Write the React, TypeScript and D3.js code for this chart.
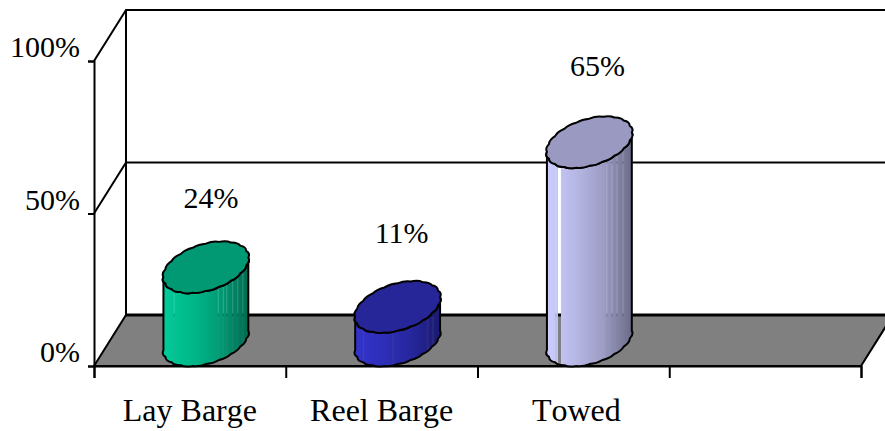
import * as d3 from 'd3';
import React, { useEffect, useRef } from 'react';

const categories = ['Lay Barge', 'Reel Barge', 'Towed', ''];
const shares = [24, 11, 65];
const yTicks = [0, 50, 100];

// body colours, left to right, and the colour of the cap
const bodyColors = [
    ['#00cc99', '#00b88a', '#009c75', '#006b50'],
    ['#3333cc', '#2e2eb8', '#26269c', '#1a1a70'],
    ['#ccccff', '#b8b8e6', '#9c9cc4', '#6b6b88'],
];
const capColors = ['#009973', '#262699', '#9999c2'];

// thin slits where the backdrop shows through the cylinder: [x fraction, width px, opacity]
const slits: [number, number, number][][] = [
    [[0.12, 1, 0.2], [0.64, 1, 0.2], [0.7, 1, 0.2], [0.74, 1, 0.2], [0.81, 1, 0.2], [0.87, 1, 0.2], [0.93, 1, 0.2]],
    [[0.09, 1, 0.2], [0.44, 1, 0.15], [0.85, 1, 0.2], [0.91, 1, 0.2]],
    [[0.1, 1, 0.2], [0.13, 3, 1], [0.7, 1, 0.2], [0.76, 1, 0.2], [0.82, 1, 0.2], [0.89, 1, 0.2]],
];

const App: React.FC = () => {
    const svgRef = useRef<SVGSVGElement>(null);

    useEffect(() => {
        if (!svgRef.current) return;
        d3.select(svgRef.current).selectAll('*').remove();

        const width = 885;
        const height = 431;
        const left = 94;
        const right = 861;
        const bottom = 366;
        const top = 61;
        const depthX = 32;
        const depthY = 51;
        const fontFamily = '"Liberation Serif", serif';
        const fontSize = 30;
        const categoryFontSize = 32;

        const svg = d3.select(svgRef.current)
            .attr('width', width)
            .attr('height', height)
            .style('position', 'absolute')
            .style('top', 0)
            .style('left', 0)
            .style('background', '#fff');

        const x = d3.scaleBand<string>().domain(categories).range([left, right]);
        const xEdges = d3.scaleLinear().domain([0, categories.length]).range([left, right]);
        const y = d3.scaleLinear().domain([0, 100]).range([bottom, top]);

        // Back wall gridlines and side wall
        yTicks.forEach((t) => {
            if (t === 0) return;
            svg.append('path')
                .attr('d', `M${left},${y(t)}L${left + depthX},${y(t) - depthY}H${right + depthX}`)
                .attr('fill', 'none')
                .attr('stroke', '#000')
                .attr('stroke-width', 2);
        });
        svg.append('line')
            .attr('x1', left + depthX).attr('x2', left + depthX)
            .attr('y1', y(100) - depthY).attr('y2', y(0) - depthY)
            .attr('stroke', '#000').attr('stroke-width', 2);

        // Floor
        svg.append('path')
            .attr('d', `M${left},${bottom}L${left + depthX},${bottom - depthY}H${right + depthX}L${right},${bottom}Z`)
            .attr('fill', '#808080')
            .attr('stroke', '#000')
            .attr('stroke-width', 2);
        svg.append('line')
            .attr('x1', left + depthX).attr('x2', right + depthX)
            .attr('y1', bottom - depthY).attr('y2', bottom - depthY)
            .attr('stroke', '#000').attr('stroke-width', 3);

        // Axes
        const yAxis = svg.append('g')
            .attr('transform', `translate(${left},0)`)
            .call(d3.axisLeft(y).tickValues(yTicks).tickFormat((d) => `${d}%`).tickSize(6).tickPadding(8));
        const xTicks = svg.append('g')
            .attr('transform', `translate(0,${bottom})`)
            .call(d3.axisBottom(xEdges).ticks(categories.length).tickFormat(() => '').tickSize(12).tickSizeOuter(12));
        const xLabels = svg.append('g')
            .attr('transform', `translate(0,${bottom})`)
            .call(d3.axisBottom(x).tickSize(0).tickPadding(32));
        xLabels.select('.domain').remove();
        xLabels.selectAll('.tick text')
            .attr('dx', (d) => (d === 'Towed' ? 3 : 0))
            .attr('font-size', categoryFontSize)
            .style('font-kerning', 'none');

        [yAxis, xTicks].forEach((g) => {
            g.selectAll('.domain, .tick line').attr('stroke', '#000').attr('stroke-width', 2);
        });
        yAxis.selectAll('text')
            .attr('font-size', fontSize)
            .attr('dy', '-0.15em');
        [yAxis, xLabels].forEach((g) => {
            g.selectAll('text')
                .attr('font-family', fontFamily)
                .attr('fill', '#000');
        });

        // Cylinders: a sheared ellipse sitting in the floor's perspective
        const halfW = x.bandwidth() * 0.205;
        const halfDX = depthX / 2;
        const halfDY = depthY / 2;
        const turn = Math.atan2(halfDX, halfW);
        const reach = Math.hypot(halfW, halfDX);

        const onEllipse = (cx: number, cy: number, t: number, k = 1): [number, number] => [
            cx + k * (halfW * Math.cos(t) + halfDX * Math.sin(t)),
            cy - k * halfDY * Math.sin(t),
        ];

        // Scalloped arc, the source chart's outline is a coarse run of bumps
        const arc = (cx: number, cy: number, from: number, to: number, steps: number) => {
            let d = '';
            for (let i = 0; i < steps; i++) {
                const a = from + ((to - from) * (i + 1)) / steps;
                const m = from + ((to - from) * (i + 0.5)) / steps;
                const c = onEllipse(cx, cy, m, 1.065);
                const p = onEllipse(cx, cy, a);
                d += `Q${c[0]},${c[1]} ${p[0]},${p[1]}`;
            }
            return d;
        };

        const defs = svg.append('defs');

        shares.forEach((v, i) => {
            const cx = (x(categories[i]) as number) + x.bandwidth() / 2 + halfDX;
            const topY = y(v) - halfDY;
            const baseY = y(0) - halfDY;
            const x0 = cx - reach;

            const grad = defs.append('linearGradient')
                .attr('id', `body-${i}`)
                .attr('gradientUnits', 'userSpaceOnUse')
                .attr('x1', x0).attr('x2', x0 + reach * 2)
                .attr('y1', 0).attr('y2', 0);
            bodyColors[i].forEach((c, j) => {
                grad.append('stop')
                    .attr('offset', j / (bodyColors[i].length - 1))
                    .attr('stop-color', c);
            });

            const mask = defs.append('mask')
                .attr('id', `slits-${i}`)
                .attr('maskUnits', 'userSpaceOnUse')
                .attr('x', 0).attr('y', 0)
                .attr('width', width).attr('height', height);
            mask.append('rect').attr('width', width).attr('height', height).attr('fill', '#fff');
            slits[i].forEach(([f, w, o]) => {
                mask.append('rect')
                    .attr('x', x0 + f * reach * 2)
                    .attr('y', topY)
                    .attr('width', w)
                    .attr('height', baseY - topY + halfDY * 2)
                    .attr('fill', '#000')
                    .attr('fill-opacity', o);
            });

            // front half of the ellipse runs right extreme -> bottom -> left extreme
            const rightT = turn;
            const leftT = turn + Math.PI;
            const tl = onEllipse(cx, topY, leftT);
            const bl = onEllipse(cx, baseY, leftT);
            const tr = onEllipse(cx, topY, rightT);

            const body = `M${tl[0]},${tl[1]}L${bl[0]},${bl[1]}`
                + arc(cx, baseY, leftT, rightT + Math.PI * 2, 10)
                + `L${tr[0]},${tr[1]}`
                + arc(cx, topY, rightT, leftT - Math.PI * 2, 10)
                + 'Z';

            svg.append('path')
                .attr('d', body)
                .attr('fill', `url(#body-${i})`)
                .attr('mask', `url(#slits-${i})`);
            svg.append('path')
                .attr('d', body)
                .attr('fill', 'none')
                .attr('stroke', '#000')
                .attr('stroke-width', 2)
                .attr('stroke-linejoin', 'round');

            svg.append('path')
                .attr('d', `M${tr[0]},${tr[1]}` + arc(cx, topY, rightT, rightT + Math.PI * 2, 20) + 'Z')
                .attr('fill', capColors[i])
                .attr('stroke', '#000')
                .attr('stroke-width', 2)
                .attr('stroke-linejoin', 'round');
        });

        // Value labels float above each cylinder
        const labelLift = [85, 89, 92];
        const labelShift = [5, 4, 8];
        shares.forEach((v, i) => {
            svg.append('text')
                .attr('x', (x(categories[i]) as number) + x.bandwidth() / 2 + halfDX + labelShift[i])
                .attr('y', y(v) - labelLift[i])
                .attr('text-anchor', 'middle')
                .attr('font-family', fontFamily)
                .attr('font-size', fontSize)
                .attr('fill', '#000')
                .text(`${v}%`);
        });
    }, []);

    return <svg ref={svgRef}></svg>;
};

export default App;
